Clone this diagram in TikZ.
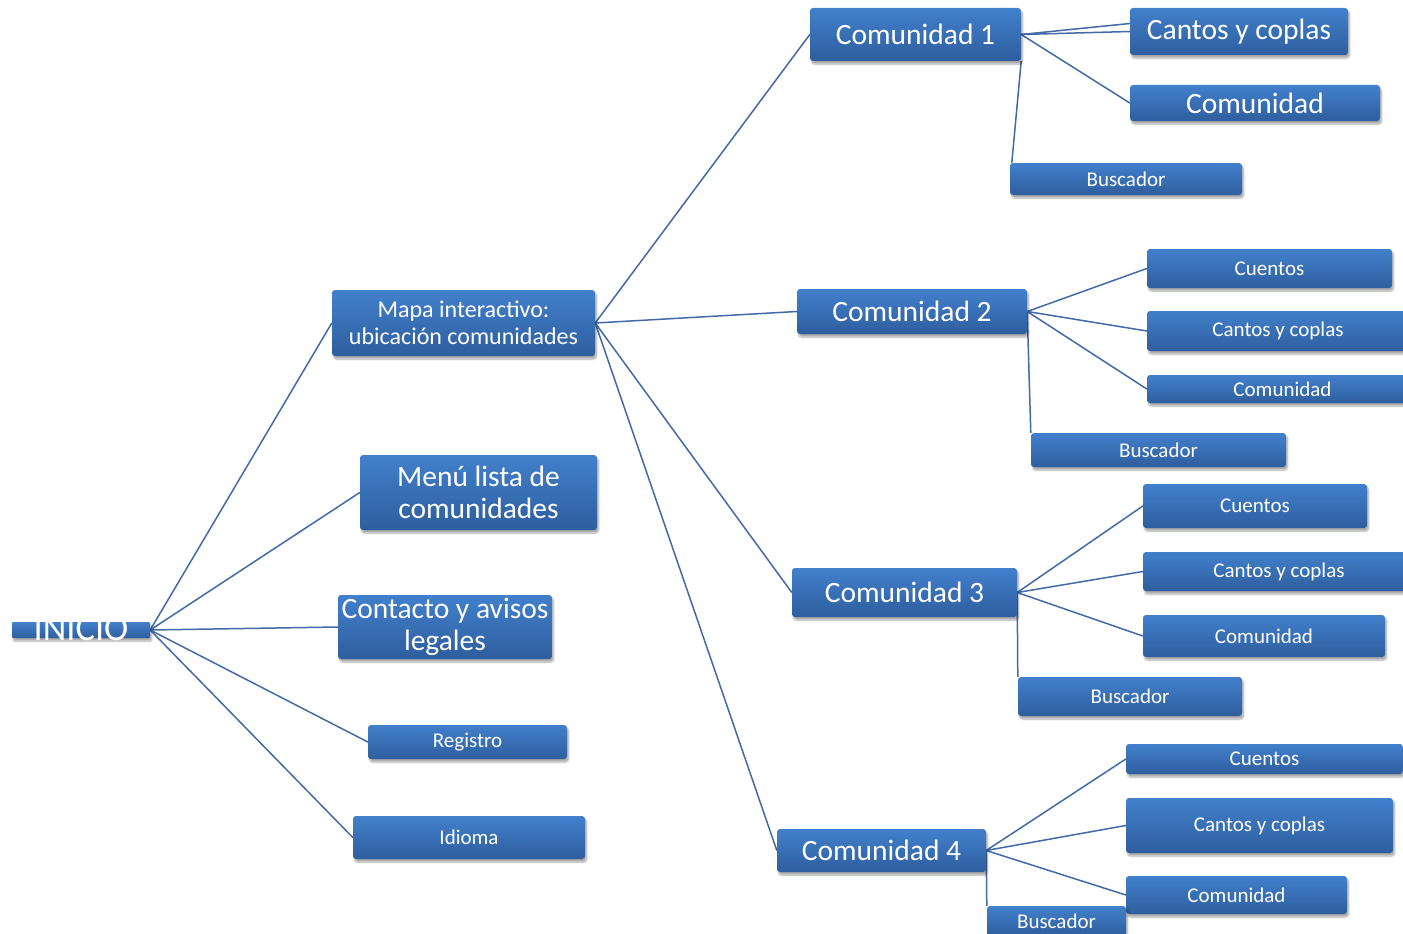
\documentclass[tikz,border=0pt]{standalone}
\usepackage{fontspec}
\setmainfont{Carlito}
\usetikzlibrary{shadows.blur,calc}
\definecolor{boxtop}{RGB}{66,128,204}
\definecolor{boxbot}{RGB}{46,94,158}
\definecolor{edgec}{RGB}{66,106,166}
\pgfdeclarelayer{bg}\pgfsetlayers{bg,main}
\tikzset{
 box/.style={rounded corners=3pt, top color=boxtop, bottom color=boxbot, draw=none, text=white, align=center, inner sep=0pt,
   blur shadow={shadow xshift=1.5pt, shadow yshift=-3pt, shadow opacity=35, shadow blur steps=6}},
 sz/.style 2 args={minimum width=#1pt, minimum height=#2pt},
 big/.style={font=\fontsize{29.5}{32.5}\selectfont},
 mid/.style={font=\fontsize{24}{27}\selectfont},
 small/.style={font=\fontsize{21}{25}\selectfont},
 link/.style={draw=edgec, line width=1.5pt},
}
\begin{document}
\begin{tikzpicture}[x=1pt,y=-1pt]
\useasboundingbox (0,0) rectangle (1403,934);
\clip (0,0) rectangle (1403,934);
% root
\node[box, rounded corners=1pt, sz={138}{16}] (ini) at (81,630) {};
\node[text=white, font=\fontsize{36.5}{38}\selectfont, inner sep=0pt] (initxt) at (81,629) {INICIO};
% level 1
\node[box,mid,sz={263}{66}] (mapa) at (463.5,323) {Mapa interactivo:\\ubicación comunidades};
\node[box,big,sz={237}{75}] (menu) at (478.5,492.5) {Menú lista de\\comunidades};
\node[box,big,sz={214}{64}] (contacto) at (445,627) {Contacto y avisos\\legales};
\node[box,small,sz={199}{34}] (registro) at (467.5,742) {Registro};
\node[box,small,sz={232}{43}] (idioma) at (469,837.5) {Idioma};
% communities
\node[box,big,sz={211}{53}] (c1) at (915.5,34.5) {Comunidad 1};
\node[box,big,sz={230}{45}] (c2) at (912,311.5) {Comunidad 2};
\node[box,big,sz={225}{49}] (c3) at (904.5,592.5) {Comunidad 3};
\node[box,big,sz={209}{43}] (c4) at (881.5,850.5) {Comunidad 4};
% community 1 children
\node[box,big,sz={218}{47}] (c1a) at (1239,31.5) {Cantos y coplas};
\node[box,big,sz={250}{36}] (c1b) at (1255,103) {Comunidad};
\node[box,small,sz={232}{32}] (c1c) at (1126,179) {Buscador};
% community 2 children
\node[box,small,sz={245}{39}] (c2a) at (1269.5,268.5) {Cuentos};
\node[box,small,sz={262}{40}] (c2b) at (1278,331) {Cantos y coplas};
\node[box,small,sz={271}{28}] (c2c) at (1282.5,389) {Comunidad};
\node[box,small,sz={255}{34}] (c2d) at (1158.5,450) {Buscador};
% community 3 children
\node[box,small,sz={224}{44}] (c3a) at (1255,506) {Cuentos};
\node[box,small,sz={272}{39}] (c3b) at (1279,571.5) {Cantos y coplas};
\node[box,small,sz={242}{42}] (c3c) at (1264,636) {Comunidad};
\node[box,small,sz={224}{39}] (c3d) at (1130,696.5) {Buscador};
% community 4 children
\node[box,small,sz={277}{30}] (c4a) at (1264.5,759) {Cuentos};
\node[box,small,sz={267}{55}] (c4b) at (1259.5,825.5) {Cantos y coplas};
\node[box,small,sz={221}{38}] (c4c) at (1236.5,895) {Comunidad};
\node[box,small,sz={139}{30}] (c4d) at (1056.5,921) {Buscador};
% connectors
\begin{pgfonlayer}{bg}
\foreach \t in {mapa,menu,contacto,registro,idioma} \draw[link] (ini.east) -- (\t.west);
\foreach \t in {c1,c2,c3,c4} \draw[link] (mapa.east) -- (\t.west);
\draw[link] (c1.east) -- ($(c1a.west)+(0,-8)$);
\draw[link] (c1.east) -- (c1a.west);
\draw[link] (c1.east) -- (c1b.west);
\draw[link] (c1.south east) -- ($(c1c.north west)+(2,0)$);
\foreach \t in {c2a,c2b,c2c} \draw[link] (c2.east) -- (\t.west);
\draw[link] (c2.east) -- (c2d.north west);
\foreach \t in {c3a,c3b,c3c} \draw[link] (c3.east) -- (\t.west);
\draw[link] (c3.east) -- (c3d.north west);
\foreach \t in {c4a,c4b,c4c} \draw[link] (c4.east) -- (\t.west);
\draw[link] (c4.east) -- (c4d.north west);
\end{pgfonlayer}
\end{tikzpicture}
\end{document}
